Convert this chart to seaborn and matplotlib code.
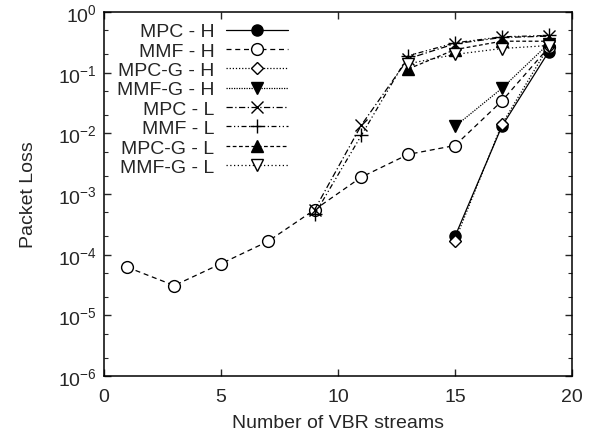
import numpy as np
import pandas as pd
import matplotlib
matplotlib.use("Agg")
import matplotlib.pyplot as plt
import matplotlib.ticker as mticker
import seaborn as sns

# Packet loss versus number of VBR streams, per scheduling scheme
labels = ["MPC - H", "MMF - H", "MPC-G - H", "MMF-G - H",
          "MPC - L", "MMF - L", "MPC-G - L", "MMF-G - L"]

x_mpc_h = [15, 17, 19]
y_mpc_h = [2.0e-4, 0.013, 0.22]

x_mmf_h = [1, 3, 5, 7, 9, 11, 13, 15, 17, 19]
y_mmf_h = [6.2e-5, 3.1e-5, 7.1e-5, 1.65e-4, 5.5e-4, 1.9e-3, 4.5e-3, 6.3e-3, 0.034, 0.26]

x_mpcg_h = [15, 17, 19]
y_mpcg_h = [1.7e-4, 0.014, 0.27]

x_mmfg_h = [15, 17, 19]
y_mmfg_h = [0.013, 0.055, 0.30]

x_mpc_l = [9, 11, 13, 15, 17, 19]
y_mpc_l = [5.5e-4, 0.0137, 0.17, 0.30, 0.38, 0.40]

x_mmf_l = [9, 11, 13, 15, 17, 19]
y_mmf_l = [4.6e-4, 0.0093, 0.19, 0.31, 0.39, 0.41]

x_mpcg_l = [13, 15, 17, 19]
y_mpcg_l = [0.115, 0.24, 0.33, 0.33]

x_mmfg_l = [13, 15, 17, 19]
y_mmfg_l = [0.14, 0.20, 0.25, 0.28]

xs = [x_mpc_h, x_mmf_h, x_mpcg_h, x_mmfg_h, x_mpc_l, x_mmf_l, x_mpcg_l, x_mmfg_l]
ys = [y_mpc_h, y_mmf_h, y_mpcg_h, y_mmfg_h, y_mpc_l, y_mmf_l, y_mpcg_l, y_mmfg_l]

# marker, face colour, marker size, line style
styles = [
    ("o", "black", 8.0, "-"),
    ("o", "white", 8.5, (0, (4, 3))),
    ("D", "white", 6.0, (0, (1, 1.5))),
    ("v", "black", 8.0, (0, (1, 1))),
    ("x", "black", 9.0, (0, (5, 2, 1, 2))),
    ("+", "black", 10.0, (0, (4, 2, 1, 2, 1, 2))),
    ("^", "black", 8.0, (0, (3, 2))),
    ("v", "white", 8.0, (0, (1, 2))),
]

sns.set_style("ticks")
plt.rcParams["font.family"] = ["Liberation Sans", "DejaVu Sans"]
plt.rcParams["mathtext.fontset"] = "custom"
plt.rcParams["mathtext.rm"] = "Liberation Sans"
plt.rcParams["mathtext.it"] = "Liberation Sans"
plt.rcParams["mathtext.bf"] = "Liberation Sans"
plt.rcParams["font.size"] = 14

fig = plt.figure(figsize=(5.97, 4.39), dpi=100)
ax = fig.add_axes([104 / 597, 1 - 377 / 439, (572 - 104) / 597, (377 - 13) / 439])

handles = []
for lab, x, y, (mk, fc, ms, ls) in zip(labels, xs, ys, styles):
    df = pd.DataFrame({"streams": x, "loss": y})
    sns.lineplot(data=df, x="streams", y="loss", ax=ax, color="black",
                 linestyle=ls, linewidth=0.9, marker=mk, markersize=ms,
                 markerfacecolor=fc, markeredgecolor="black",
                 markeredgewidth=1.0, label=lab, legend=False)
    handles.append(ax.lines[-1])

ax.set_yscale("log")
ax.set_xlim(0, 20)
ax.set_ylim(1e-6, 1)
ax.set_xticks([0, 5, 10, 15, 20])
ax.yaxis.set_major_locator(mticker.LogLocator(base=10, numticks=10))
ax.yaxis.set_minor_locator(mticker.LogLocator(base=10, subs=[2, 5], numticks=10))
ax.yaxis.set_minor_formatter(mticker.NullFormatter())
ax.yaxis.set_major_formatter(mticker.LogFormatterMathtext())

ax.tick_params(which="both", direction="in", top=True, right=True, labelsize=14)
ax.tick_params(which="major", length=5, width=1.0)
ax.tick_params(axis="x", which="major", pad=9)
ax.tick_params(axis="y", which="major", pad=5)
ax.tick_params(which="minor", length=3, width=0.8)
for s in ax.spines.values():
    s.set_linewidth(1.1)
    s.set_color("black")

ax.set_xlabel("Number of VBR streams", fontsize=14, labelpad=6)
ax.set_ylabel("Packet Loss", fontsize=14, labelpad=15)

leg = ax.legend(handles, labels, loc="upper right",
                bbox_to_anchor=(298 / 597, 1 - 14 / 439),
                bbox_transform=fig.transFigure, frameon=False,
                markerfirst=False, handlelength=3.2, handletextpad=0.6,
                labelspacing=0.09, borderpad=0, fontsize=14)

fig.savefig("out.png", dpi=100)
